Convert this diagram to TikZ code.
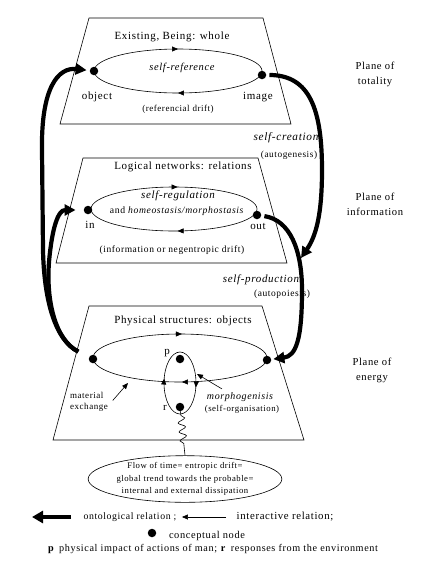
\documentclass[tikz,border=0pt]{standalone}
\usepackage{fontspec}
\setmainfont{Liberation Serif}[LetterSpace=6]
\usetikzlibrary{arrows.meta,shapes.geometric,decorations.markings,decorations.pathmorphing}
\newcommand{\fsz}[1]{\fontsize{#1}{#1}\selectfont}
\begin{document}
\begin{tikzpicture}[x=1pt,y=-1pt,
  plane/.style={draw, line width=0.6pt},
  loopline/.style={draw, line width=0.6pt},
  cnode/.style={circle, fill=black, inner sep=0pt, minimum size=8.5pt},
  ontol/.style={line width=4.2pt, -{Triangle[length=11pt,width=11pt]}},
  thinarr/.style={line width=0.6pt, -{Triangle[length=6pt,width=5pt]}},
  ttl/.style={font=\fsz{11}},
  lbl/.style={font=\fsz{11}},
  itl/.style={font=\fsz{#1}\itshape},
  sml/.style={font=\fsz{9}},
  plbl/.style={font=\fontsize{10.6}{15}\selectfont, align=center},
  loopmarks/.style 2 args={postaction={decorate}, decoration={markings,
     mark=at position #1 with {\arrow{Triangle[length=6pt,width=5pt]}},
     mark=at position #2 with {\arrow{Triangle[length=6pt,width=5pt]}}}},
]
\useasboundingbox (0,0) rectangle (427,563);

% ---- planes
\draw[plane] (89,18) -- (263,18) -- (291,124) -- (60,124) -- cycle;
\draw[plane] (83,158) -- (258,158) -- (287,263) -- (56,263) -- cycle;
\draw[plane] (89,306) -- (262,306) -- (304,440) -- (53,440) -- cycle;

% ---- loops
\draw[loopline, loopmarks={0.25}{0.75}] (178,71) ellipse [x radius=84, y radius=22];
\draw[loopline, loopmarks={0.24}{0.76}] (174,209) ellipse [x radius=83, y radius=22];
\draw[loopline, loopmarks={0.245}{0.755}] (180,358) ellipse [x radius=87, y radius=24];
\draw[loopline, loopmarks={0.03}{0.53}] (180,383) ellipse [x radius=16, y radius=31];

% ---- titles and labels
\node[ttl] (tTot) at (172,37) {Existing, Being: whole};
\node[itl=10.5] (sref) at (182,68) {self-reference};
\node[lbl] (lObj) at (97,97) {object};
\node[lbl] (lImg) at (258,97) {image};
\node[sml] (rdrift) at (178,109) {(referencial drift)};

\node[ttl] (tInf) at (183,167) {Logical networks: relations};
\node[itl=11] (sreg) at (178,196) {self-regulation};
\node[font=\fsz{9.7}] (homeo) at (177,211) {and \textit{homeostasis/morphostasis}};
\node[lbl] (lIn) at (90,225) {in};
\node[lbl] (lOut) at (258,226) {out};
\node[font=\fsz{9.5}] (ndrift) at (172,250) {(information or negentropic drift)};

\node[ttl] (tEn) at (183,321) {Physical structures: objects};
\node[lbl] (lP) at (167,353) {p};
\node[lbl] (lR) at (165,408) {r};
\node[font=\fontsize{9}{11}\selectfont, align=left] (matex) at (89,402) {material\\exchange};
\node[itl=10] (morph) at (240,397) {morphogenisis};
\node[font=\fsz{8.8}] (selforg) at (242,409) {(self-organisation)};

\node[plbl] (pTot) at (375,74) {Plane of\\totality};
\node[plbl] (pInf) at (375,204) {Plane of\\information};
\node[plbl] (pEn) at (372,370) {Plane of\\energy};

\node[itl=11.3] (screa) at (286,138) {self-creation};
\node[font=\fsz{9.3}] (autog) at (289,155) {(autogenesis)};
\node[itl=11] (sprod) at (261,280) {self-production};
\node[font=\fsz{9.5}] (autop) at (282,294) {(autopoiesis)};

% ---- conceptual nodes
\node[cnode] (dObj) at (94,71) {};
\node[cnode] (dImg) at (262,75) {};
\node[cnode] (dIn) at (88,210) {};
\node[cnode] (dOut) at (257,215) {};
\node[cnode] (dPL) at (93,359) {};
\node[cnode] (dPR) at (267,360) {};
\node[cnode] (dP) at (180,359) {};
\node[cnode] (dR) at (180,407) {};

% ---- ontological relations
\coordinate (r1Tip) at (301,258);
\draw[ontol, shorten <=3pt] (dImg) .. controls (310,75) and (322,110) .. (322,170)
   .. controls (322,215) and (316,236) .. (r1Tip);
\draw[ontol, shorten <=3pt, shorten >=2pt] (dOut) .. controls (290,220) and (302,250) .. (302,290)
   .. controls (302,340) and (296,356) .. (dPR);
\draw[ontol, shorten <=12pt, shorten >=3pt] (dPL) .. controls (55,340) and (44,300) .. (43,250)
   -- (42,150) .. controls (41,88) and (58,67) .. (dObj);
\draw[ontol, shorten <=12pt, shorten >=8pt] (dPL) .. controls (55,340) and (46,300) .. (49,262)
   .. controls (52,228) and (58,210) .. (dIn);

% ---- interactive relations
\coordinate (mxTip) at (128,383);
\coordinate (mgTip) at (197,374);
\draw[thinarr, shorten <=2pt] (matex.east) -- (mxTip);
\draw[thinarr] ([xshift=-18pt]morph.north) -- (mgTip);

% ---- flow of time
\node[ellipse, draw, line width=0.6pt, minimum width=193pt, minimum height=42pt, inner sep=0pt,
      align=center, font=\fontsize{8.7}{12.5}\selectfont] (flow) at (185,479)
  {Flow of time= entropic drift=\\global trend towards the probable=\\internal and external dissipation};
\draw[line width=0.6pt, decorate, decoration={snake, amplitude=3.5pt, segment length=9pt, pre length=4pt, post length=10pt}]
  (dR) -- (flow.north);

% ---- legend
\node[font=\fsz{9.8}] (ontoLbl) at (130,517) {ontological relation ;};
\coordinate (lgTip) at (32,517);
\draw[line width=4.2pt, -{Triangle[length=11pt,width=12pt]}, shorten <=9pt] (ontoLbl.west) -- (lgTip);
\node[font=\fsz{10.8}] (interLbl) at (285,517) {interactive relation;};
\draw[thinarr, shorten <=7pt, shorten >=2pt] (interLbl.west) -- (ontoLbl.east);
\node[cnode] (lgDot) at (152,533) {};
\node[font=\fsz{10.4}] (cnLbl) at (207,536) {conceptual node};
\node[font=\fsz{10.2}] (pr) at (213,549) {\textbf{p}\, physical impact of actions of man; \textbf{r}\, responses from the environment};
\end{tikzpicture}
\end{document}
